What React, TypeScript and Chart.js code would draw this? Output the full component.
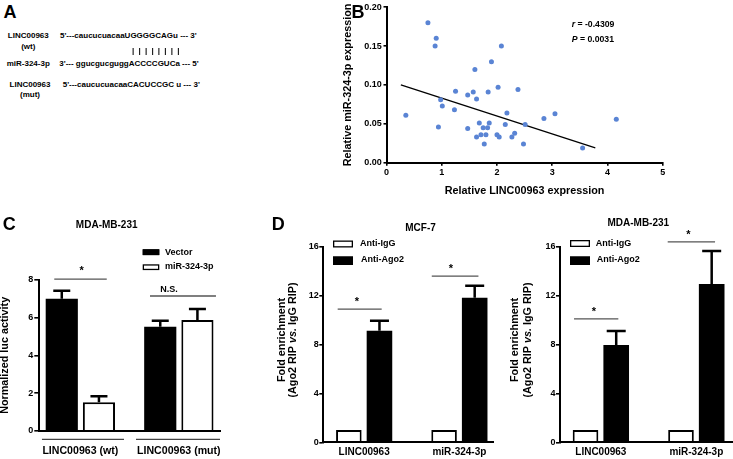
import React, { useEffect, useRef } from 'react';
import { Chart, registerables } from 'chart.js';

Chart.register(...registerables);

const FONT = "'Liberation Sans', Arial, Helvetica, sans-serif";
const W = 733;
const H = 459;

// ---------- Panel A : sequences ----------
const seqWt = "5'---caucucuacaaUGGGGCAGu --- 3'";
const seqMir = "3'--- ggucgucguggACCCCGUCa --- 5'";
const seqMut = "5'---caucucuacaaCACUCCGC u --- 3'";
const pairing = '| | | | | | | |';

// ---------- Panel B : correlation ----------
const lincExpr = [
  0.35, 0.75, 0.88, 0.9, 0.94, 0.98, 1.01, 1.23, 1.25, 1.47, 1.47, 1.57, 1.6,
  1.63, 1.63, 1.68, 1.71, 1.75, 1.77, 1.8, 1.83, 1.84, 1.86, 1.9, 2.0, 2.02,
  2.04, 2.08, 2.15, 2.18, 2.27, 2.32, 2.38, 2.48, 2.51, 2.85, 3.05, 3.55, 4.16,
];
const mirExpr = [
  0.061, 0.18, 0.15, 0.16, 0.046, 0.081, 0.073, 0.068, 0.092, 0.087, 0.044,
  0.091, 0.12, 0.082, 0.033, 0.051, 0.036, 0.045, 0.024, 0.036, 0.045, 0.091,
  0.051, 0.13, 0.036, 0.097, 0.033, 0.15, 0.049, 0.064, 0.033, 0.038, 0.094,
  0.024, 0.049, 0.057, 0.063, 0.019, 0.056,
];
const fitX = [0.26, 3.78];
const fitY = [0.1, 0.019];
const bXTicks = [0, 1, 2, 3, 4, 5];
const bYTicks = [0, 0.05, 0.1, 0.15, 0.2];
const rValue = '-0.4309';
const pValue = '0.0031';

// ---------- Panel C : luciferase ----------
const cCategories = ['LINC00963 (wt)', 'LINC00963 (mut)'];
const cVector = [7.0, 5.52];
const cVectorErr = [0.43, 0.32];
const cMir = [1.51, 5.88];
const cMirErr = [0.32, 0.58];
const cYTicks = [0, 2, 4, 6, 8];

// ---------- Panel D : RIP ----------
const dCategories = ['LINC00963', 'miR-324-3p'];
const mcfIgG = [1, 1];
const mcfAgo2 = [9.13, 11.82];
const mcfAgo2Err = [0.81, 0.98];
const mdaIgG = [1, 1];
const mdaAgo2 = [7.96, 12.94];
const mdaAgo2Err = [1.14, 2.7];
const dYTicks = [0, 4, 8, 12, 16];

type Seg = { t: string; it?: boolean };

function drawSegs(
  ctx: CanvasRenderingContext2D,
  segs: Seg[],
  x: number,
  y: number,
  size: number,
  align: 'left' | 'center' = 'left',
  rotate = false
) {
  ctx.save();
  ctx.translate(x, y);
  if (rotate) ctx.rotate(-Math.PI / 2);
  ctx.textBaseline = 'middle';
  ctx.textAlign = 'left';
  ctx.fillStyle = '#000';
  const fontOf = (it?: boolean) => `${it ? 'italic ' : ''}bold ${size}px ${FONT}`;
  let total = 0;
  for (const s of segs) {
    ctx.font = fontOf(s.it);
    total += ctx.measureText(s.t).width;
  }
  let cx = align === 'center' ? -total / 2 : 0;
  for (const s of segs) {
    ctx.font = fontOf(s.it);
    ctx.fillText(s.t, cx, 0);
    cx += ctx.measureText(s.t).width;
  }
  ctx.restore();
}

function errorBars(cap: number) {
  return {
    id: 'errorBars',
    afterDatasetsDraw(chart: any) {
      const ctx = chart.ctx;
      const ys = chart.scales.y;
      ctx.save();
      ctx.strokeStyle = '#000';
      ctx.lineWidth = 2.5;
      chart.data.datasets.forEach((ds: any, i: number) => {
        if (!ds.errors) return;
        const meta = chart.getDatasetMeta(i);
        meta.data.forEach((el: any, j: number) => {
          const e = ds.errors[j];
          if (!e) return;
          const top = ys.getPixelForValue(ds.data[j].y + e);
          ctx.beginPath();
          ctx.moveTo(el.x, el.y);
          ctx.lineTo(el.x, top);
          ctx.moveTo(el.x - cap / 2, top);
          ctx.lineTo(el.x + cap / 2, top);
          ctx.stroke();
        });
      });
      ctx.restore();
    },
  };
}

interface DecorSpec {
  sig?: { x1: number; x2: number; y: number; label: string; lx: number; ly: number; size: number }[];
  underlines?: { x1: number; x2: number; dy: number }[];
  rects?: { x: number; y: number; w: number; h: number; fill: string }[];
  texts?: { x: number; y: number; segs: Seg[]; size: number; align?: 'left' | 'center'; rotate?: boolean }[];
}

function decor(spec: DecorSpec) {
  return {
    id: 'decor',
    afterDraw(chart: any) {
      const ctx: CanvasRenderingContext2D = chart.ctx;
      const xs = chart.scales.x;
      const ys = chart.scales.y;
      (spec.sig || []).forEach((s) => {
        const y = ys.getPixelForValue(s.y);
        ctx.save();
        ctx.strokeStyle = '#555';
        ctx.lineWidth = 1.3;
        ctx.beginPath();
        ctx.moveTo(xs.getPixelForValue(s.x1), y);
        ctx.lineTo(xs.getPixelForValue(s.x2), y);
        ctx.stroke();
        ctx.restore();
        drawSegs(ctx, [{ t: s.label }], xs.getPixelForValue(s.lx), ys.getPixelForValue(s.ly), s.size, 'center');
      });
      (spec.underlines || []).forEach((u) => {
        const y = chart.chartArea.bottom + u.dy;
        ctx.save();
        ctx.strokeStyle = '#444';
        ctx.lineWidth = 1.3;
        ctx.beginPath();
        ctx.moveTo(xs.getPixelForValue(u.x1), y);
        ctx.lineTo(xs.getPixelForValue(u.x2), y);
        ctx.stroke();
        ctx.restore();
      });
      (spec.rects || []).forEach((r) => {
        ctx.save();
        ctx.fillStyle = r.fill;
        ctx.fillRect(r.x, r.y, r.w, r.h);
        ctx.strokeStyle = '#000';
        ctx.lineWidth = 1.3;
        ctx.strokeRect(r.x + 0.65, r.y + 0.65, r.w - 1.3, r.h - 1.3);
        ctx.restore();
      });
      (spec.texts || []).forEach((t) =>
        drawSegs(ctx, t.segs, t.x, t.y, t.size, t.align || 'left', !!t.rotate)
      );
    },
  };
}

const tickFont = (size: number) => ({ family: FONT, size, weight: 'bold' as const });

function yAxis(min: number, max: number, ticks: number[], tickLen: number, pad: number, width: number, fmt: (v: number) => string, title?: string, titleLH = 1.2) {
  return {
    type: 'linear',
    min,
    max,
    offset: false,
    afterBuildTicks: (s: any) => {
      s.ticks = ticks.map((v) => ({ value: v }));
    },
    afterFit: (s: any) => {
      s.width = width;
    },
    ticks: { font: tickFont(9), color: '#000', padding: pad, callback: (v: any) => fmt(Number(v)) },
    grid: { display: true, drawOnChartArea: false, drawTicks: true, tickLength: tickLen, color: '#000', lineWidth: 1.6, offset: false },
    border: { display: true, color: '#000', width: 2, z: 1 },
    title: title
      ? { display: true, text: title, color: '#000', font: { family: FONT, size: 10.8, weight: 'bold', lineHeight: titleLH }, padding: 0 }
      : { display: false },
  };
}

function barChartConfig(opts: {
  cats: string[];
  datasets: any[];
  pad: { left: number; top: number; right: number; bottom: number };
  xMin: number;
  xMax: number;
  xH: number;
  labelPad: number;
  labelSize: number;
  y: any;
  catPct: number;
  barPct: number;
}) {
  return {
    type: 'bar',
    data: { datasets: opts.datasets },
    options: {
      responsive: false,
      animation: false,
      devicePixelRatio: 1,
      events: [],
      layout: { autoPadding: false, padding: opts.pad },
      datasets: { bar: { categoryPercentage: opts.catPct, barPercentage: opts.barPct } },
      plugins: { legend: { display: false }, tooltip: { enabled: false }, title: { display: false } },
      scales: {
        x: {
          type: 'linear',
          offset: false,
          min: opts.xMin,
          max: opts.xMax,
          afterBuildTicks: (s: any) => {
            s.ticks = opts.cats.map((_, i) => ({ value: i + 1 }));
          },
          afterFit: (s: any) => {
            s.height = opts.xH;
          },
          ticks: {
            font: tickFont(opts.labelSize),
            color: '#000',
            padding: opts.labelPad,
            autoSkip: false,
            maxRotation: 0,
            minRotation: 0,
            callback: (_v: any, i: number) => opts.cats[i],
          },
          grid: { display: false, drawTicks: false, offset: false },
          border: { display: true, color: '#000', width: 2, z: 1 },
        },
        y: opts.y,
      },
    },
  };
}

const toXY = (vals: number[]) => vals.map((v, i) => ({ x: i + 1, y: v }));

export default function App() {
  const refB = useRef<HTMLCanvasElement>(null);
  const refC = useRef<HTMLCanvasElement>(null);
  const refD1 = useRef<HTMLCanvasElement>(null);
  const refD2 = useRef<HTMLCanvasElement>(null);

  useEffect(() => {
    const charts: Chart[] = [];

    // ----- Panel B -----
    const cfgB: any = {
      type: 'scatter',
      data: {
        datasets: [
          {
            data: lincExpr.map((x, i) => ({ x, y: mirExpr[i] })),
            backgroundColor: '#5a84d4',
            borderWidth: 0,
            pointRadius: 2.5,
            pointHoverRadius: 2.5,
          },
          {
            type: 'line',
            data: fitX.map((x, i) => ({ x, y: fitY[i] })),
            borderColor: '#000',
            borderWidth: 1.3,
            pointRadius: 0,
            fill: false,
            showLine: true,
          },
        ],
      },
      options: {
        responsive: false,
        animation: false,
        devicePixelRatio: 1,
        events: [],
        layout: { autoPadding: false, padding: { left: 341.5, top: 6.7, right: W - 662.7, bottom: H - 162.7 - 35 } },
        plugins: { legend: { display: false }, tooltip: { enabled: false } },
        scales: {
          x: {
            type: 'linear',
            min: 0,
            max: 5,
            afterBuildTicks: (s: any) => {
              s.ticks = bXTicks.map((v) => ({ value: v }));
            },
            afterFit: (s: any) => {
              s.height = 35;
            },
            ticks: { font: tickFont(9), color: '#000', padding: 1.2, maxRotation: 0, autoSkip: false, callback: (v: any) => String(v) },
            grid: { display: true, drawOnChartArea: false, drawTicks: true, tickLength: 3, color: '#000', lineWidth: 1.6 },
            border: { display: true, color: '#000', width: 2, z: 1 },
            title: { display: true, text: 'Relative LINC00963 expression', color: '#000', font: { family: FONT, size: 10.8, weight: 'bold' }, padding: 0 },
          },
          y: yAxis(0, 0.2, bYTicks, 3, 1.8, 45, (v) => v.toFixed(2), 'Relative miR-324-3p expression'),
        },
      },
      plugins: [
        decor({
          texts: [
            { x: 358, y: 13, segs: [{ t: 'B' }], size: 18, align: 'center' },
            { x: 571.7, y: 25, segs: [{ t: 'r', it: true }, { t: ' = ' + rValue }], size: 8.7 },
            { x: 571.7, y: 40, segs: [{ t: 'P', it: true }, { t: ' = ' + pValue }], size: 8.7 },
          ],
        }),
      ],
    };
    charts.push(new Chart(refB.current!, cfgB));

    // ----- Panel C -----
    const cfgC: any = barChartConfig({
      cats: cCategories,
      datasets: [
        { label: 'Vector', data: toXY(cVector), errors: cVectorErr, backgroundColor: '#000', borderColor: '#000', borderWidth: 0 },
        { label: 'miR-324-3p', data: toXY(cMir), errors: cMirErr, backgroundColor: '#fff', borderColor: '#000', borderWidth: 2 },
      ],
      pad: { left: 0, top: 280, right: W - 220, bottom: 0 },
      xMin: 0.583,
      xMax: 2.418,
      xH: H - 430.7,
      labelPad: 14,
      labelSize: 10.6,
      catPct: 0.755,
      barPct: 0.865,
      y: yAxis(0, 8, cYTicks, 5, 1, 39.3, (v) => String(v), 'Normalized luc activity', 1),
    });
    cfgC.plugins = [
      errorBars(17),
      decor({
        sig: [
          { x1: 0.735, x2: 1.268, y: 8.05, label: '*', lx: 1.014, ly: 8.5, size: 11 },
          { x1: 1.707, x2: 2.377, y: 7.15, label: 'N.S.', lx: 1.9, ly: 7.52, size: 9 },
        ],
        underlines: [
          { x1: 0.61, x2: 1.443, dy: 8.6 },
          { x1: 1.565, x2: 2.418, dy: 8.6 },
        ],
        rects: [
          { x: 142.7, y: 249.3, w: 16.6, h: 5.8, fill: '#000' },
          { x: 142.7, y: 264.3, w: 16.6, h: 5.8, fill: '#fff' },
        ],
        texts: [
          { x: 9.3, y: 225, segs: [{ t: 'C' }], size: 18, align: 'center' },
          { x: 106.7, y: 225, segs: [{ t: 'MDA-MB-231' }], size: 10, align: 'center' },
          { x: 165, y: 252.3, segs: [{ t: 'Vector' }], size: 9 },
          { x: 165, y: 267, segs: [{ t: 'miR-324-3p' }], size: 9 },
        ],
      }),
    ];
    charts.push(new Chart(refC.current!, cfgC));

    // ----- Panel D (MCF-7) -----
    const cfgD1: any = barChartConfig({
      cats: dCategories,
      datasets: [
        { label: 'Anti-IgG', data: toXY(mcfIgG), backgroundColor: '#fff', borderColor: '#000', borderWidth: 2 },
        { label: 'Anti-Ago2', data: toXY(mcfAgo2), errors: mcfAgo2Err, backgroundColor: '#000', borderColor: '#000', borderWidth: 0 },
      ],
      pad: { left: 293.3, top: 246.7, right: W - 493, bottom: 0 },
      xMin: 0.571,
      xMax: 2.353,
      xH: H - 442.3,
      labelPad: 4,
      labelSize: 10,
      catPct: 0.643,
      barPct: 0.835,
      y: yAxis(0, 16, dYTicks, 4, 0.5, 30, (v) => String(v)),
    });
    cfgD1.plugins = [
      errorBars(19),
      decor({
        sig: [
          { x1: 0.722, x2: 1.184, y: 10.9, label: '*', lx: 0.925, ly: 11.45, size: 11 },
          { x1: 1.71, x2: 2.2, y: 13.6, label: '*', lx: 1.912, ly: 14.15, size: 11 },
        ],
        rects: [
          { x: 333, y: 240.5, w: 20, h: 7, fill: '#fff' },
          { x: 333, y: 256.5, w: 20, h: 8.5, fill: '#000' },
        ],
        texts: [
          { x: 278.3, y: 225, segs: [{ t: 'D' }], size: 18, align: 'center' },
          { x: 420.5, y: 228.5, segs: [{ t: 'MCF-7' }], size: 10, align: 'center' },
          { x: 360, y: 244, segs: [{ t: 'Anti-IgG' }], size: 9 },
          { x: 361, y: 260, segs: [{ t: 'Anti-Ago2' }], size: 9 },
          { x: 281.7, y: 340, segs: [{ t: 'Fold enrichment' }], size: 10.8, align: 'center', rotate: true },
          { x: 293.3, y: 340, segs: [{ t: '(Ago2 RIP ' }, { t: 'vs.', it: true }, { t: ' IgG RIP)' }], size: 10.8, align: 'center', rotate: true },
        ],
      }),
    ];
    charts.push(new Chart(refD1.current!, cfgD1));

    // ----- Panel D (MDA-MB-231) -----
    const cfgD2: any = barChartConfig({
      cats: dCategories,
      datasets: [
        { label: 'Anti-IgG', data: toXY(mdaIgG), backgroundColor: '#fff', borderColor: '#000', borderWidth: 2 },
        { label: 'Anti-Ago2', data: toXY(mdaAgo2), errors: mdaAgo2Err, backgroundColor: '#000', borderColor: '#000', borderWidth: 0 },
      ],
      pad: { left: 530, top: 246.7, right: 0, bottom: 0 },
      xMin: 0.572,
      xMax: 2.384,
      xH: H - 442.3,
      labelPad: 4,
      labelSize: 10,
      catPct: 0.643,
      barPct: 0.835,
      y: yAxis(0, 16, dYTicks, 4, 0.5, 30, (v) => String(v)),
    });
    cfgD2.plugins = [
      errorBars(19),
      decor({
        sig: [
          { x1: 0.719, x2: 1.183, y: 10.1, label: '*', lx: 0.928, ly: 10.65, size: 11 },
          { x1: 1.7, x2: 2.196, y: 16.4, label: '*', lx: 1.918, ly: 16.95, size: 11 },
        ],
        rects: [
          { x: 570, y: 240, w: 20, h: 7, fill: '#fff' },
          { x: 570, y: 256.5, w: 20, h: 8.5, fill: '#000' },
        ],
        texts: [
          { x: 638.3, y: 223.3, segs: [{ t: 'MDA-MB-231' }], size: 10, align: 'center' },
          { x: 595.7, y: 243.7, segs: [{ t: 'Anti-IgG' }], size: 9 },
          { x: 596.7, y: 260, segs: [{ t: 'Anti-Ago2' }], size: 9 },
          { x: 515, y: 340, segs: [{ t: 'Fold enrichment' }], size: 10.8, align: 'center', rotate: true },
          { x: 527.7, y: 340, segs: [{ t: '(Ago2 RIP ' }, { t: 'vs.', it: true }, { t: ' IgG RIP)' }], size: 10.8, align: 'center', rotate: true },
        ],
      }),
    ];
    charts.push(new Chart(refD2.current!, cfgD2));

    return () => charts.forEach((c) => c.destroy());
  }, []);

  const T = (p: { x: number; y: number; text: string; size?: number; center?: boolean; weight?: string; ls?: number; layer?: boolean }) => {
    const size = p.size ?? 8;
    return (
      <div
        style={{
          position: 'absolute',
          left: p.x,
          top: p.y - size * 0.6,
          fontSize: size,
          lineHeight: `${size * 1.2}px`,
          fontWeight: (p.weight ?? 'bold') as any,
          whiteSpace: 'pre',
          letterSpacing: p.ls ?? 0,
          transform: p.center ? 'translateX(-50%)' : p.layer ? 'translateZ(0)' : undefined,
          willChange: p.layer ? 'transform' : undefined,
          background: p.layer ? '#fff' : undefined,
          color: '#000',
        }}
      >
        {p.text}
      </div>
    );
  };

  const canvasStyle: React.CSSProperties = { position: 'absolute', left: 0, top: 0, width: W, height: H };

  return (
    <div
      style={{
        position: 'fixed',
        left: 0,
        top: 0,
        width: W,
        height: H,
        background: '#fff',
        overflow: 'hidden',
        fontFamily: FONT,
      }}
    >
      <T x={10} y={12.3} text="A" size={18} center />
      <T x={28.3} y={36} text="LINC00963" center />
      <T x={28.3} y={46.7} text="(wt)" center />
      <T x={60} y={36} text={seqWt} />
      <T x={132.3} y={50.7} text={pairing} weight="bold" ls={1} layer />
      <T x={6.7} y={63.3} text="miR-324-3p" />
      <T x={59.3} y={63.3} text={seqMir} />
      <T x={30} y={85} text="LINC00963" center />
      <T x={30} y={95} text="(mut)" center />
      <T x={62.7} y={85} text={seqMut} />
      <canvas ref={refB} width={W} height={H} style={canvasStyle} />
      <canvas ref={refC} width={W} height={H} style={canvasStyle} />
      <canvas ref={refD1} width={W} height={H} style={canvasStyle} />
      <canvas ref={refD2} width={W} height={H} style={canvasStyle} />
    </div>
  );
}
